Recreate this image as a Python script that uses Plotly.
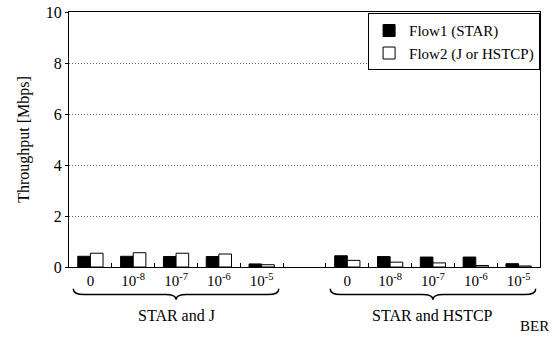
import plotly.graph_objects as go

# BER settings per pairing (an empty slot separates the two groups)
ber_labels = ["0", "10<sup>-8</sup>", "10<sup>-7</sup>", "10<sup>-6</sup>", "10<sup>-5</sup>"]
groups = ["STAR and J", "STAR and HSTCP"]

# Throughput [Mbps]
flow1_star_j = [0.42, 0.42, 0.41, 0.41, 0.12]
flow2_star_j = [0.54, 0.56, 0.54, 0.51, 0.09]
flow1_star_hstcp = [0.44, 0.41, 0.39, 0.39, 0.13]
flow2_star_hstcp = [0.26, 0.19, 0.16, 0.06, 0.04]

n = len(ber_labels)
x1 = list(range(n))
x2 = [i + n + 1 for i in range(n)]
xs = x1 + x2

flow1 = flow1_star_j + flow1_star_hstcp
flow2 = flow2_star_j + flow2_star_hstcp

FONT = "Liberation Serif, Times New Roman, DejaVu Serif, serif"

fig = go.Figure()
fig.add_trace(go.Bar(x=xs, y=flow1, name="Flow1 (STAR)",
                     marker=dict(color="black", line=dict(color="black", width=1))))
fig.add_trace(go.Bar(x=xs, y=flow2, name="Flow2 (J or HSTCP)",
                     marker=dict(color="white", line=dict(color="black", width=1))))

xmin, xmax = -0.5, 2 * n + 0.5

fig.update_layout(
    width=555, height=338,
    margin=dict(l=69, r=15, t=12, b=71, autoexpand=False),
    paper_bgcolor="white", plot_bgcolor="white",
    barmode="group", bargap=0.41, bargroupgap=0,
    font=dict(family=FONT, size=15, color="black"),
    showlegend=True,
    legend=dict(x=0.635, y=0.995, xanchor="left", yanchor="top",
                bgcolor="white", bordercolor="black", borderwidth=1,
                font=dict(family=FONT, size=15), itemwidth=30,
                tracegroupgap=0),
    xaxis=dict(range=[xmin, xmax], tickmode="array", tickvals=xs,
               ticktext=ber_labels + ber_labels, ticks="", showgrid=False,
               showline=True, linecolor="black", linewidth=1, mirror=True,
               tickfont=dict(family=FONT, size=15), zeroline=False,
               automargin=False,
               minor=dict(tickmode="array",
                          tickvals=[i + 0.5 for i in range(2 * n)],
                          ticks="inside", ticklen=4, tickcolor="black")),
    yaxis=dict(range=[0, 10], tickmode="array", tickvals=[0, 2, 4, 6, 8, 10],
               showline=True, linecolor="black", linewidth=1, mirror=True,
               showgrid=True, gridcolor="#666666", griddash="1px,2px", gridwidth=1,
               ticks="outside", ticklen=3, tickcolor="black", zeroline=False,
               tickfont=dict(family=FONT, size=16), automargin=False,
               title=dict(text="Throughput [Mbps]", standoff=12,
                          font=dict(family=FONT, size=16))),
)

# Curly braces under each group
def brace_path(xa, xb, ytop, ymid, ytip):
    xm = (xa + xb) / 2
    c = 0.25
    return (f"M {xa},{ytop} Q {xa},{ymid} {xa + c},{ymid} "
            f"L {xm - c},{ymid} Q {xm},{ymid} {xm},{ytip} "
            f"Q {xm},{ymid} {xm + c},{ymid} "
            f"L {xb - c},{ymid} Q {xb},{ymid} {xb},{ytop}")

ytop, ymid, ytip = -0.085, -0.108, -0.128
for xa_list, label in zip([x1, x2], groups):
    xa, xb = xa_list[0] - 0.4, xa_list[-1] + 0.4
    fig.add_shape(type="path", xref="x", yref="paper",
                  path=brace_path(xa, xb, ytop, ymid, ytip),
                  line=dict(color="black", width=1.5))
    fig.add_annotation(x=(xa + xb) / 2, y=-0.15, xref="x", yref="paper",
                       text=label, showarrow=False, yanchor="top",
                       font=dict(family=FONT, size=16))

fig.add_annotation(x=1.022, y=-0.232, xref="paper", yref="paper", text="BER",
                   showarrow=False, xanchor="right", yanchor="middle",
                   borderpad=0, font=dict(family=FONT, size=15))

fig.write_html("out.html")
